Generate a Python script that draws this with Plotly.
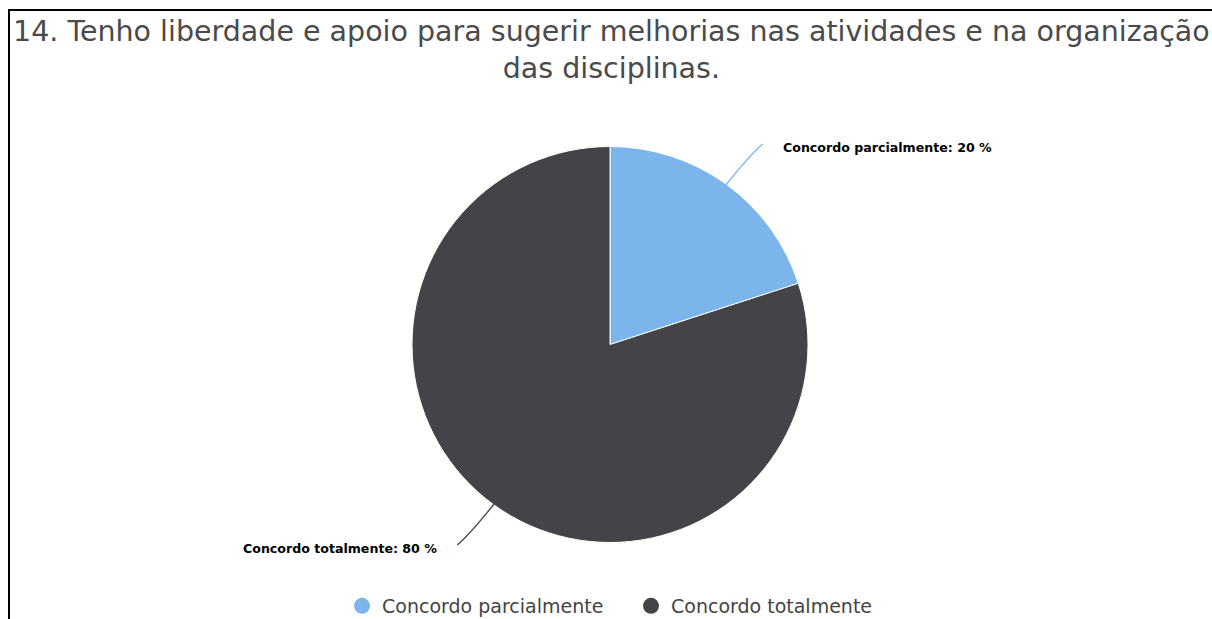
import math
import plotly.graph_objects as go

# ---- data ----
categories = ["Concordo parcialmente", "Concordo totalmente"]
values = [20, 80]
colors = ["#7cb5ec", "#434348"]
title_lines = ["14. Tenho liberdade e apoio para sugerir melhorias nas atividades e na organização",
               "das disciplinas."]

# ---- layout constants (pixels) ----
W, H = 1212, 619
CX, CY, R = 610.0, 344.5, 197.5
CONN = 50.3      # connector length beyond the rim (radial)
HSHIFT = 7.0     # extra horizontal run at connector end
GAP = 18.0       # gap between connector end and label


def px(x):
    return x / W


def py(y):
    return 1 - y / H


fig = go.Figure()

RD = R + 0.5
fig.add_trace(go.Pie(
    labels=categories, values=values,
    marker=dict(colors=colors, line=dict(color="white", width=1)),
    sort=False, direction="clockwise", rotation=0,
    textinfo="none", hoverinfo="label+percent",
    showlegend=False,
    domain=dict(x=[px(CX - RD), px(CX + RD)], y=[py(CY + RD), py(CY - RD)]),
))

# legend entries as circles
for name, col in zip(categories, colors):
    fig.add_trace(go.Scatter(x=[None], y=[None], mode="markers", name=name,
                             marker=dict(symbol="circle", size=16, color=col)))

shapes = []
annotations = []
total = sum(values)
cum = 0.0
for name, v, col in zip(categories, values, colors):
    mid = (cum + v / 2) / total * 2 * math.pi
    cum += v
    side = 1 if math.sin(mid) >= 0 else -1
    sx, sy = CX + R * math.sin(mid), CY - R * math.cos(mid)
    ex = CX + (R + CONN) * math.sin(mid) + side * HSHIFT
    ey = CY - (R + CONN) * math.cos(mid)
    qx = ex - side * 12
    qy = ey + (sy - ey) * 0.25
    path = f"M {px(sx)} {py(sy)} Q {px(qx)} {py(qy)} {px(ex)} {py(ey)}"
    shapes.append(dict(type="path", xref="paper", yref="paper", path=path,
                       line=dict(color=col, width=1.3)))
    lx = ex + side * GAP
    annotations.append(dict(
        x=px(lx), y=py(ey + 3.5), xref="paper", yref="paper",
        xanchor="left" if side > 0 else "right", yanchor="middle",
        text=f"<b>{name}: {v} %</b>", showarrow=False,
        font=dict(family="DejaVu Sans", size=12.6, color="#000000"),
    ))

# title
annotations.append(dict(
    x=px(611), y=py(13), xref="paper", yref="paper", xanchor="center", yanchor="top",
    text="<br>".join(title_lines), showarrow=False,
    font=dict(family="DejaVu Sans", size=28.5, color="#4a4a4a"),
))

# frame lines (top and left)
shapes.append(dict(type="line", xref="paper", yref="paper",
                   x0=px(8), y0=py(10), x1=px(W), y1=py(10),
                   line=dict(color="black", width=2)))
shapes.append(dict(type="line", xref="paper", yref="paper",
                   x0=px(9), y0=py(10), x1=px(9), y1=py(H),
                   line=dict(color="black", width=2)))

fig.update_layout(
    width=W, height=H,
    margin=dict(l=0, r=0, t=0, b=0, autoexpand=False),
    paper_bgcolor="white", plot_bgcolor="white",
    xaxis=dict(visible=False), yaxis=dict(visible=False),
    shapes=shapes, annotations=annotations,
    legend=dict(orientation="h", x=px(342), xanchor="left", y=py(606), yanchor="middle",
                font=dict(family="DejaVu Sans", size=19, color="#444444"),
                itemsizing="trace", bgcolor="rgba(0,0,0,0)",
                entrywidth=244, entrywidthmode="pixels"),
    showlegend=True,
)

fig.write_html("out.html", config={"displayModeBar": False},
               post_script="document.body.style.margin='0';")
